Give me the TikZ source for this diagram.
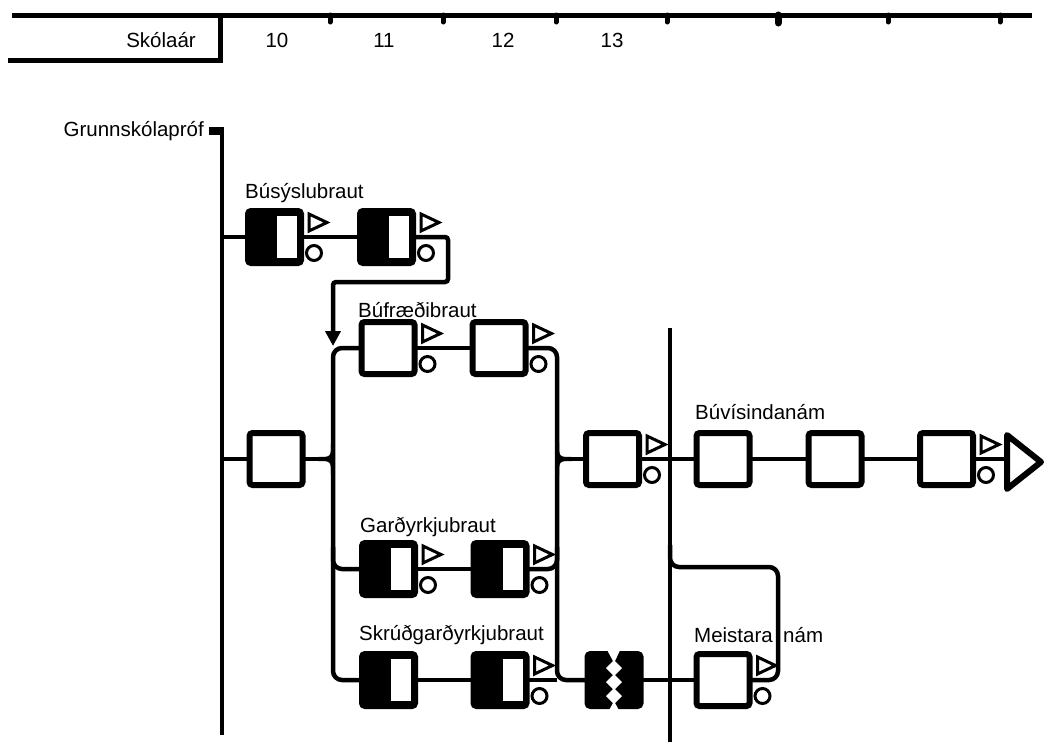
\documentclass[tikz,border=0pt]{standalone}
\usepackage{fontspec}
\setmainfont{Liberation Sans}
\usetikzlibrary{calc,arrows.meta}
\tikzset{
  lbl/.style={font=\fontsize{20.5}{24}\selectfont, inner sep=0pt},
  wbox/.style={draw, line width=6pt, fill=white, minimum width=53pt, minimum height=52pt, rounded corners=3pt, outer sep=0pt, inner sep=0pt},
  bbox/.style={wbox, fill=black},
  conn/.style={line width=4.5pt},
  mrk/.style={line width=3pt, line join=miter},
  rule/.style={line width=5pt},
  tickmk/.style={line width=5pt, line cap=round}
}
\newcommand{\mk}[1]{%
  \draw[mrk] ($(#1.north east)+(8,3)$) -- ++(0,17) -- ++(18,-8.5) -- cycle;
  \draw[mrk] ($(#1.south east)+(13,-10)$) circle[radius=7.5pt];}
\newcommand{\hb}[1]{\fill[white] ($(#1.north west)+(29,5)$) rectangle ($(#1.south east)+(-4,-5)$);}
\newcommand{\junc}[2]{%
  \fill ($(#1)+(#2*2,-16)$) .. controls ($(#1)+(#2*2,-2)$) .. ($(#1)+(#2*15,-2)$)
     -- ($(#1)+(#2*15,2)$) .. controls ($(#1)+(#2*2,2)$) .. ($(#1)+(#2*2,16)$) -- cycle;}
\begin{document}
\begin{tikzpicture}[x=1pt,y=-1pt]
\useasboundingbox (0,0) rectangle (1045,742);
% header
\draw[rule] (12,15) -- (1032,15);
\draw[rule] (8,60) -- (220,60) -- (220,15);
\foreach \x in {330,443,556,667,888,1000} \draw[tickmk] (\x,15) -- (\x,22);
\draw[tickmk, line width=7pt] (778,15) -- (778,23);
\node[lbl, anchor=base east] (hdr) at (196,47) {Skólaár};
\node[lbl, anchor=base] (y10) at (277,47) {10};
\node[lbl, anchor=base] (y11) at (384,47) {11};
\node[lbl, anchor=base] (y12) at (503,47) {12};
\node[lbl, anchor=base] (y13) at (612,47) {13};
% start
\node[lbl, anchor=base east] (gp) at (204,136) {Grunnskólapróf};
\fill (209,127) rectangle (224,135);
\coordinate (gl) at (222,128);
\coordinate (glb) at (222,735);
\draw[conn] (gl) -- (glb);
\coordinate (lb) at (333,348);
\coordinate (rb) at (557,348);
% labels
\node[lbl, anchor=base west] (l1) at (245,198) {Búsýslubraut};
\node[lbl, anchor=base west] (l2) at (358,317) {Búfræðibraut};
\node[lbl, anchor=base west] (l3) at (695,419) {Búvísindanám};
\node[lbl, anchor=base west] (l4) at (360,532) {Garðyrkjubraut};
\node[lbl, anchor=base west] (l5) at (359,640) {Skrúðgarðyrkjubraut};
% boxes
\node[bbox] (A1) at (274.5,237) {};
\node[bbox] (A2) at (386.5,237) {};
\node[wbox] (F1) at (388,348) {};
\node[wbox] (F2) at (499,348) {};
\node[wbox] (M0) at (276,459) {};
\node[wbox] (M1) at (612.5,459) {};
\node[wbox] (V1) at (723,459) {};
\node[wbox] (V2) at (835,459) {};
\node[wbox] (V3) at (946.5,459) {};
\node[bbox] (G1) at (388.5,569) {};
\node[bbox] (G2) at (500,569) {};
\node[bbox] (S1) at (388.5,680) {};
\node[bbox] (S2) at (500,680) {};
\node[bbox] (Z) at (614,680) {};
\node[wbox] (Mn) at (723,680) {};
\foreach \b in {A1,A2,G1,G2,S1,S2} {\hb{\b}}
\fill[white] (605,646) -- (613,661) -- (606,668) -- (613,675) -- (606,682) -- (613,689) -- (606,696) -- (613,703) -- (607,714)
  -- (621,714) -- (615,703) -- (622,696) -- (615,689) -- (622,682) -- (615,675) -- (622,668) -- (615,661) -- (622,646) -- cycle;
\foreach \b in {A1,A2,F1,F2,M1,V3,G1,G2,S2,Mn} {\mk{\b}}
% connectors
\draw[conn] (A1.west -| gl) -- (A1.west);
\draw[conn] (A1.east) -- (A2.west);
\draw[conn, rounded corners=3pt, -{Triangle[length=15pt,width=15pt]}] (A2.east) -- (448,237) -- (448,282) -- (333,282) -- (333,346);
\draw[conn, rounded corners=9pt] (F1.west) -| (S1.west -| lb) -- (S1.west);
\draw[conn, rounded corners=9pt] ($(G1.west -| lb)+(0,-22)$) |- (G1.west);
\draw[conn] (F1.east) -- (F2.west);
\draw[conn] (G1.east) -- (G2.west);
\draw[conn] (S1.east) -- (S2.west);
\draw[conn] (M0.west -| gl) -- (M0.west);
\coordinate (jL) at (M0.east -| lb);
\draw[conn] (M0.east) -- (jL);
\junc{jL}{-1}
\draw[conn, rounded corners=9pt] (F2.east) -| (Z.west -| rb) -- (Z.west);
\draw[conn] (S2.east) -- (S2.east -| rb);
\draw[conn, rounded corners=9pt] ($(G2.east -| rb)+(0,-22)$) |- (G2.east);
\coordinate (jR) at (M1.west -| rb);
\draw[conn] (jR) -- (M1.west);
\junc{jR}{1}
\draw[conn] (M1.east) -- (V1.west);
\draw[conn] (V1.east) -- (V2.west);
\draw[conn] (V2.east) -- (V3.west);
\coordinate (endL) at (1006,459);
\draw[conn] (V3.east) -- (endL);
\draw[line width=6pt, fill=white, line join=round] (1007,435) -- (1007,489) -- (1041,462) -- cycle;
\draw[conn] (Z.east) -- (Mn.west);
% vertical divider and Meistaranám
\coordinate (vt) at (670,328);
\coordinate (vb) at (670,742);
\draw[conn] (vt) -- (vb);
\draw[conn, rounded corners=9pt] (670,545) |- (778,567) |- (Mn.east);
\node[lbl, anchor=base east] (m1) at (773,642) {Meistara};
\node[lbl, anchor=base west] (m2) at (783,642) {nám};
\end{tikzpicture}
\end{document}
